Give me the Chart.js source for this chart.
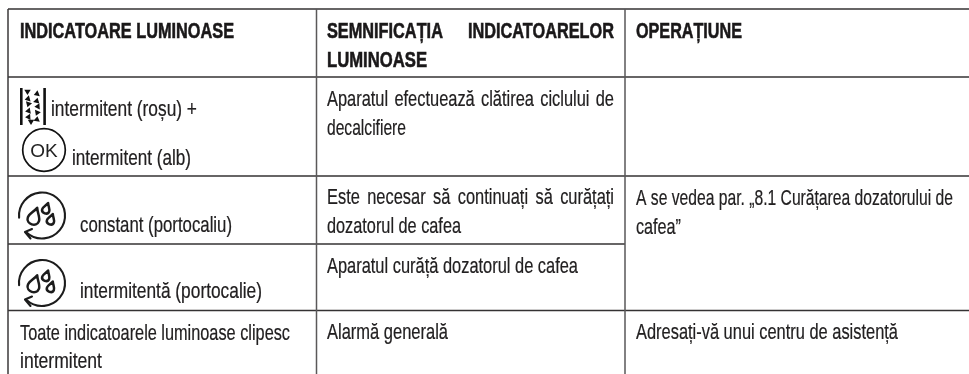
<!DOCTYPE html>
<html lang="ro"><head><meta charset="utf-8">
<style>html,body{margin:0;padding:0;background:#fff;overflow:hidden}#wrap{width:969px;height:374px;position:relative}</style>
<script src="https://cdn.jsdelivr.net/npm/chart.js@4"></script>
</head><body><div id="wrap"><canvas id="c" width="969" height="374"></canvas></div>
<script>
const columnEdges = [8, 316.5, 625];
const rowEdges = [9, 77, 176, 244, 310.5];
const headerCells = ["INDICATOARE LUMINOASE", "SEMNIFICAȚIA INDICATOARELOR", "LUMINOASE", "OPERAȚIUNE"];
const indicatorCells = ["intermitent (roșu) +", "intermitent (alb)", "constant (portocaliu)", "intermitentă (portocalie)", "Toate indicatoarele luminoase clipesc", "intermitent"];
const meaningCells = ["Aparatul efectuează clătirea ciclului de", "decalcifiere", "Este necesar să continuați să curățați", "dozatorul de cafea", "Aparatul curăță dozatorul de cafea", "Alarmă generală"];
const actionCells = ["A se vedea par. „8.1 Curățarea dozatorului de", "cafea”", "Adresați-vă unui centru de asistență"];

const FONT = '"Liberation Sans",sans-serif';
// [text, x, baseline, width, bold, justify]
const layout = [
 [headerCells[0],20,38,214,1],[headerCells[1],327,38,287,1,1],[headerCells[2],327,67,100,1],[headerCells[3],636,38,106,1],
 [indicatorCells[0],51,116,146],[indicatorCells[1],72,165,119],[indicatorCells[2],80,232,152],[indicatorCells[3],80,298,182],
 [indicatorCells[4],20,340,270],[indicatorCells[5],20,368,82],
 [meaningCells[0],327,106,287,0,1],[meaningCells[1],327,135,79],[meaningCells[2],327,204,287,0,1],[meaningCells[3],327,233,134],
 [meaningCells[4],327,273,251],[meaningCells[5],327,339,121],
 [actionCells[0],636,205,317],[actionCells[1],636,234,45],[actionCells[2],636,339,262]
];
const BOLD_SIZE=22.5, REG_SIZE=22;
function setFont(ctx,bold){
  ctx.font=(bold?'bold ':'')+(bold?BOLD_SIZE:REG_SIZE)+'px '+FONT;
  ctx.fillStyle=bold?'#1a1819':'#222021';
  ctx.textAlign='left';ctx.textBaseline='alphabetic';
}
function word(ctx,t,x,y,sx,bold){
  ctx.save();ctx.translate(x,y);ctx.scale(sx,1);ctx.fillText(t,0,0);
  ctx.lineWidth=bold?0.6:0.22;ctx.strokeStyle=ctx.fillStyle;ctx.strokeText(t,0,0);
  ctx.restore();
}
function fitText(ctx,t,x,y,w,bold,just){
  setFont(ctx,bold);
  if(just){
    const sx=bold?214/ctx.measureText(headerCells[0]).width:251/ctx.measureText(meaningCells[4]).width;
    const words=t.split(' ');
    const widths=words.map(s=>ctx.measureText(s).width*sx);
    const gap=(w-widths.reduce((a,b)=>a+b,0))/(words.length-1);
    let cx=x;
    words.forEach((s,i)=>{word(ctx,s,cx,y,sx,bold);cx+=widths[i]+gap;});
    return;
  }
  word(ctx,t,x,y,w/ctx.measureText(t).width,bold);
}
function drop(ctx,x,y,s){
  ctx.save();ctx.translate(x,y);ctx.rotate(0.32);
  ctx.beginPath();ctx.moveTo(0,-2.1*s);
  ctx.bezierCurveTo(0.35*s,-1.2*s,1.1*s,-0.6*s,1.05*s,0.1*s);
  ctx.bezierCurveTo(s,1.3*s,-s,1.3*s,-1.05*s,0.1*s);
  ctx.bezierCurveTo(-1.1*s,-0.6*s,-0.35*s,-1.2*s,0,-2.1*s);
  ctx.closePath();ctx.stroke();ctx.restore();
}
function cycleIcon(ctx,cx,cy){
  ctx.save();ctx.strokeStyle='#1c1c1c';ctx.lineWidth=2.1;ctx.lineCap='round';ctx.lineJoin='round';
  ctx.beginPath();ctx.arc(cx,cy,23,Math.PI*0.97,Math.PI*2.74);ctx.stroke();
  ctx.beginPath();ctx.moveTo(cx-10,cy+13.5);ctx.lineTo(cx-17,cy+16.5);ctx.lineTo(cx-11.5,cy+23);ctx.stroke();
  ctx.lineWidth=2.5;drop(ctx,cx-8.5,cy+3.5,5.6);drop(ctx,cx+3.8,cy-5.5,3.5);drop(ctx,cx+8.5,cy+5.5,3.5);
  ctx.restore();
}
function barsIcon(ctx){
  ctx.fillStyle='#111';ctx.fillRect(20,88,2.6,37);ctx.fillRect(43.3,88,2.6,37);
  const pts=[[27.5,92,0],[36.5,94,1.2],[27.5,99,1.3],[36.8,100.5,3.4],[28.3,104.5,0.3],[37.3,106.5,1.5],[28,111,1.4],[37,113,0.4],[28,117,1.5],[37,119,3.3],[31,122,0]];
  ctx.fillStyle='#111';
  pts.forEach(([x,y,r])=>{ctx.save();ctx.translate(x,y);ctx.rotate(r);ctx.beginPath();ctx.moveTo(-3.2,-2.3);ctx.lineTo(3.2,-2.3);ctx.lineTo(0,2.9);ctx.closePath();ctx.fill();ctx.restore();});
}
function okIcon(ctx){
  ctx.save();ctx.strokeStyle='#111';ctx.lineWidth=1.7;ctx.beginPath();ctx.arc(44,150,21.3,0,Math.PI*2);ctx.stroke();
  ctx.font='19px "Liberation Sans",sans-serif';ctx.fillStyle='#222';ctx.textAlign='center';ctx.textBaseline='alphabetic';ctx.fillText('OK',44,157);ctx.restore();
}
const tablePlugin={id:'tableText',afterDatasetsDraw(chart){
  const ctx=chart.ctx,sx=chart.scales.x,sy=chart.scales.y;
  ctx.save();
  layout.forEach(([t,x,y,w,b,j])=>fitText(ctx,t,sx.getPixelForValue(x),sy.getPixelForValue(y),w,b,j));
  barsIcon(ctx);okIcon(ctx);cycleIcon(ctx,42,215.5);cycleIcon(ctx,42,283);
  ctx.restore();
}};
const right=969,bottom=374;
const rule=(x1,y1,x2,y2,c)=>({type:'line',data:[{x:x1,y:y1},{x:x2,y:y2}],borderColor:c,borderWidth:1.5,pointRadius:0,fill:false,tension:0});
const ds=[
 ...columnEdges.map((x,i)=>rule(x,rowEdges[0],x,bottom,i?'#5a5859':'#3c3a3b')),
 ...rowEdges.filter((_,i)=>i!==3).map(y=>rule(columnEdges[0],y,right,y,'#343233')),
 rule(columnEdges[0],rowEdges[3],columnEdges[2],rowEdges[3],'#343233')
];
new Chart(document.getElementById('c'),{type:'scatter',data:{datasets:ds},plugins:[tablePlugin],options:{
 responsive:false,animation:false,layout:{padding:0},
 plugins:{legend:{display:false},tooltip:{enabled:false},title:{display:false}},
 scales:{x:{type:'linear',min:0,max:right,display:false},y:{type:'linear',min:0,max:bottom,reverse:true,display:false}}
}});
</script></body></html>
